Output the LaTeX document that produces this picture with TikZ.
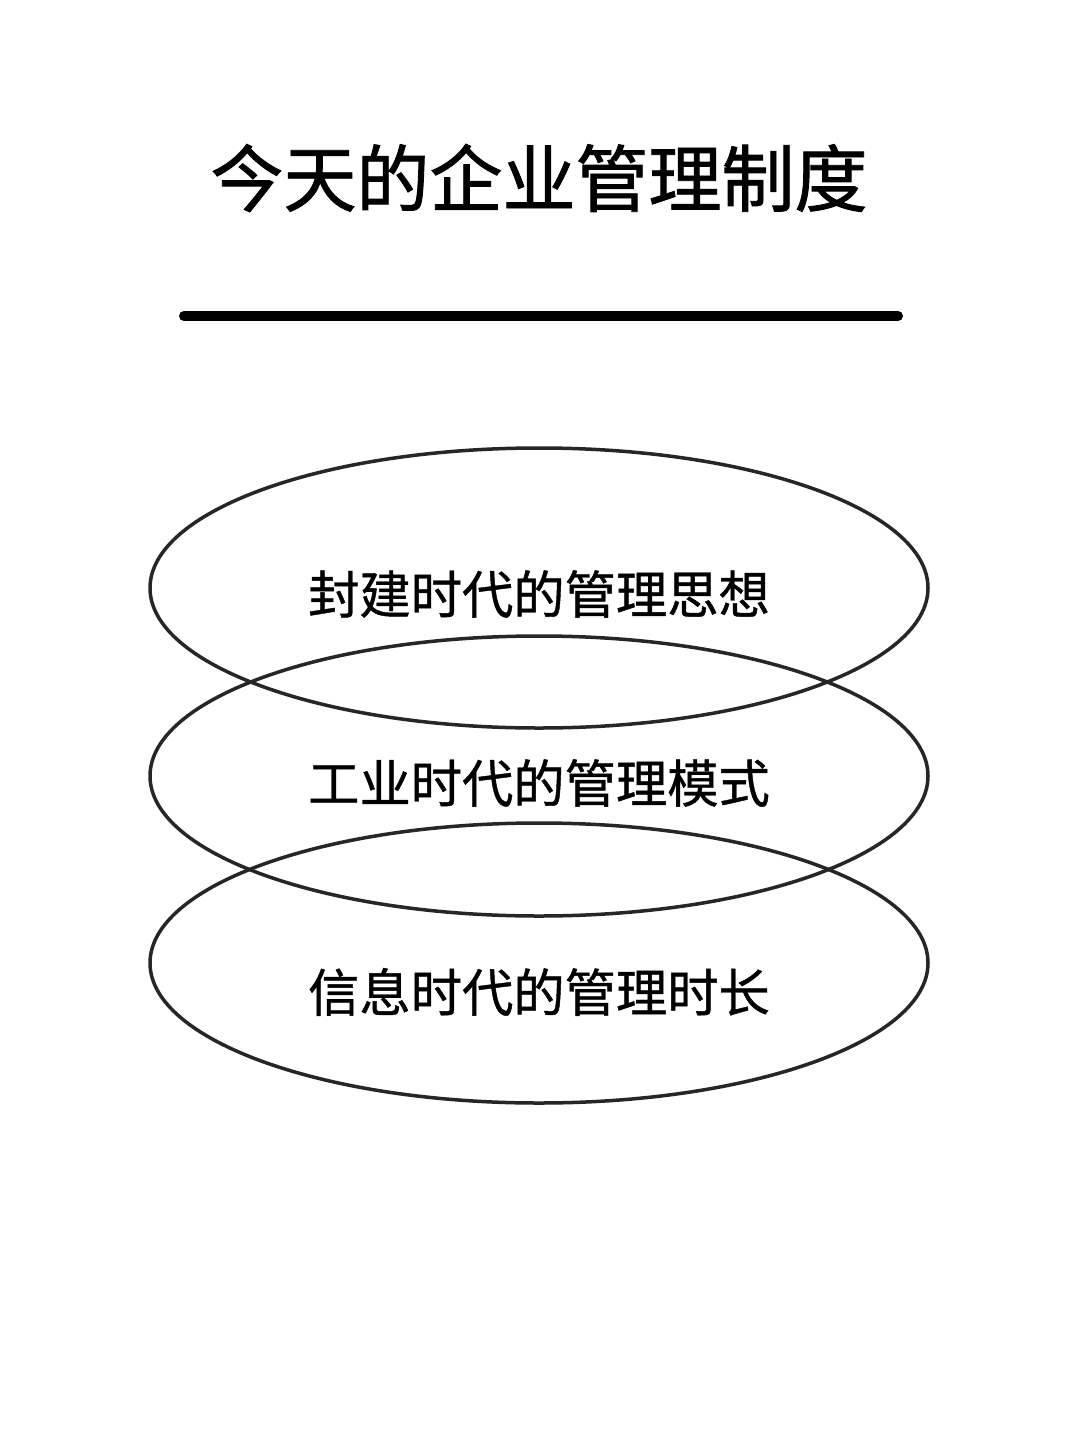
\documentclass[tikz,border=0pt]{standalone}
\usepackage{fontspec}
\newfontfamily\cjk{Noto Sans CJK SC}[FakeBold=0.8]
\newfontfamily\cjktitle{Noto Sans CJK SC}[FakeBold=1.2]
\begin{document}
\begin{tikzpicture}[x=1pt,y=-1pt,
  ring/.style={draw=black!85, line width=3.5pt},
  label/.style={font=\cjk\fontsize{51.3}{56}\selectfont, text=black},
  titletext/.style={font=\cjktitle\fontsize{73}{80}\selectfont, text=black}]
\useasboundingbox[fill=white] (0,0) rectangle (1080,1443);
\node[titletext] (title) at (539,178) {今天的企业管理制度};
\coordinate (rl) at (184,316);
\coordinate (rr) at (898,316);
\draw[line width=10pt, line cap=round] (rl) -- (rr);
\draw[ring] (539,588) ellipse [x radius=389, y radius=140];
\draw[ring] (539,776) ellipse [x radius=389, y radius=140];
\draw[ring] (539,963) ellipse [x radius=389, y radius=140];
\node[label] (t1) at (539,594) {封建时代的管理思想};
\node[label] (t2) at (539,783) {工业时代的管理模式};
\node[label] (t3) at (539,992) {信息时代的管理时长};
\end{tikzpicture}
\end{document}
